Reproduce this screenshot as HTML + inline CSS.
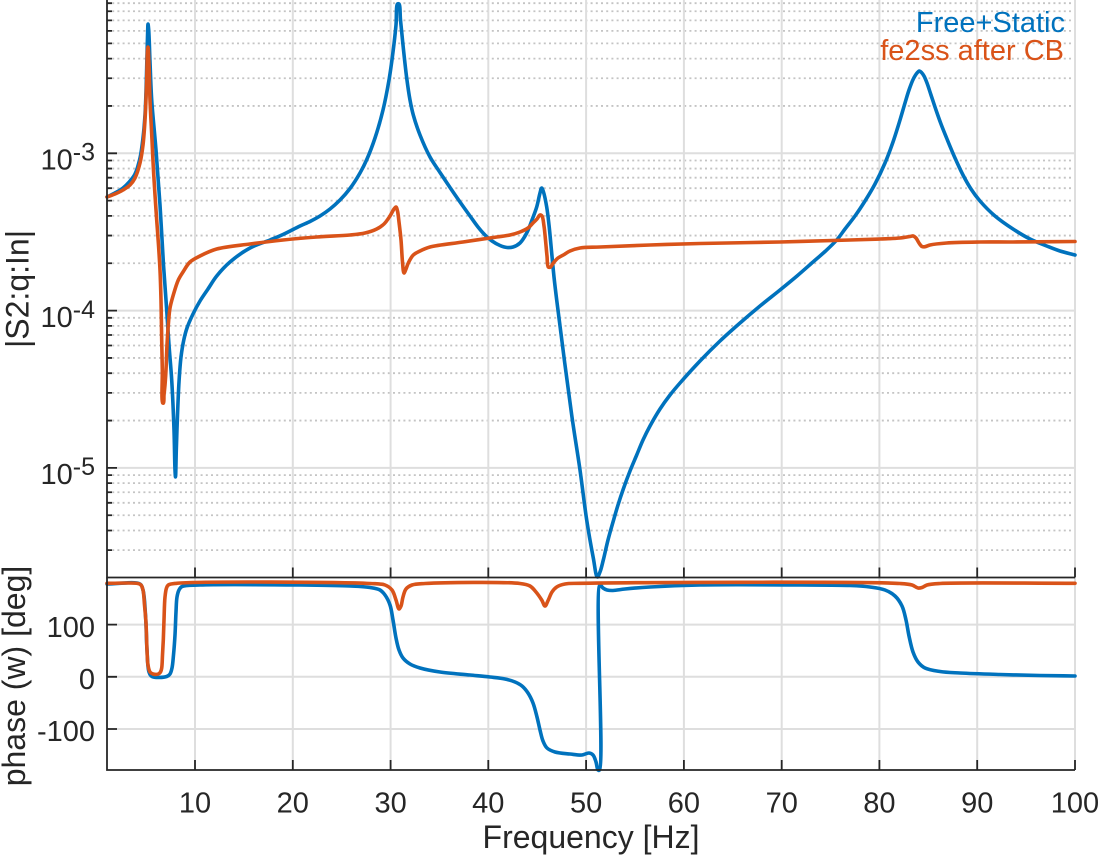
<!DOCTYPE html>
<html><head><meta charset="utf-8"><style>
html,body{margin:0;padding:0;background:#fff;}
svg{display:block;}
text{font-family:"Liberation Sans",Arial,sans-serif;fill:#262626;}
</style></head><body>
<svg id="chart" width="1098" height="860" viewBox="0 0 1098 860" xmlns="http://www.w3.org/2000/svg">
<rect width="1098" height="860" fill="#fff"/>
<!-- minor grid upper (dotted) -->
<g stroke="#c4c4c4" stroke-width="1.8" stroke-dasharray="2 3.2" fill="none">
<path d="M107 105.95H1075M107 78.25H1075M107 58.6H1075M107 43.35H1075M107 30.9H1075M107 20.37H1075M107 11.24H1075M107 3.2H1075
M107 263.25H1075M107 235.55H1075M107 215.9H1075M107 200.65H1075M107 188.2H1075M107 177.67H1075M107 168.54H1075M107 160.5H1075
M107 420.55H1075M107 392.85H1075M107 373.2H1075M107 357.95H1075M107 345.5H1075M107 334.97H1075M107 325.84H1075M107 317.8H1075
M107 550.15H1075M107 530.5H1075M107 515.25H1075M107 502.8H1075M107 492.27H1075M107 483.14H1075M107 475.1H1075"/>
</g>
<!-- major grid -->
<g stroke="#dedede" stroke-width="2" fill="none">
<path d="M107 153.3H1075M107 310.6H1075M107 467.9H1075"/>
<path d="M195 0V577M292.8 0V577M390.6 0V577M488.3 0V577M586.1 0V577M683.9 0V577M781.7 0V577M879.4 0V577M977.2 0V577M1075 0V577"/>
<path d="M107 624.6H1075M107 676.8H1075M107 729H1075"/>
<path d="M195 578V770M292.8 578V770M390.6 578V770M488.3 578V770M586.1 578V770M683.9 578V770M781.7 578V770M879.4 578V770M977.2 578V770M1075 578V770"/>
</g>

<!-- magnitude: blue -->
<polyline class="sm" fill="none" stroke="#0072BD" stroke-width="3.6" stroke-linejoin="round" stroke-linecap="round" points="
107,197 115,193 123,188 130,181 135,174 140,158 143,138 145,115 146,92 147,55 147.7,30 148,24 148.7,30 150,62 151.7,100 156,150 160,205 163.5,265 166.7,310 169,345 171.7,380 174,430 175,470 175.5,477 176.3,450 177.5,415 179,382 181,357 184,339 187,328 193,314 200,301 208,289 216.7,276 230,262 250,248 270,240 283,234.5 300,226 310,221.5 320,216 330,209 340,200 350,188.5 360,173 367,159 375,138 383,110 389,80 393,52 396,25 397.5,4 399,4 400.5,20 403,45 406.7,78 410,100 413.3,115 420,135 430,157 440,172.5 450,187.5 460,202 470,216 478,227 485,235 492,241 500,245.5 507,247.5 513,247 520,243 526.7,233 532,220 536.7,207 540,193 541.7,188 543.5,192 546.7,207 549,225 551.7,253 554,277 556.7,300 571.7,415 580,470 586.7,520 593.3,558 597.3,577 600,572 603.3,560 608,540 613.3,521 618,505 623.3,489 630,471 636.7,455 643,440 650,426 660,409 670,395 680,383 700,361 720,341 740,323 760,306 780,290 797,276 813,262 825,251.5 836.7,240 845,229 855,216 865,201 875,184 885,163 893,142 900,120 905,103 909,90 913.3,79 917,73 919.3,71 921.5,72.5 924,76 927,83 931,95 936,110 941,124 947,139 955,158 963,175 971,189 980,201 995,216 1013,229 1030,239 1046.7,246 1060,251 1075,255"/>

<!-- magnitude: orange -->
<polyline class="sm" fill="none" stroke="#D95319" stroke-width="3.6" stroke-linejoin="round" stroke-linecap="round" points="
107,197 115,194 123,190 130,185 135,178 140,163 143,145 145,120 146.7,80 147.5,50 148,47 149,65 150,100 152,140 153.3,167 155,195 156.7,220 158.5,245 160,270 161,300 161.7,340 162.3,370 162.7,403 163.5,403 164,395 165,385 166,370 167,345 168.3,325 170,308 173.3,295 178.3,280 183,272 190,262 200,256 216.7,249 250,244 283,240 316.7,237 350,235 365,233 376.7,229 384,224 390,216 394,209 396,207 397.5,211 399,222 401,240 402.5,262 404,273 406,269 408.3,263 413.3,255 420,251 430,247 463,242 496.7,237 510,235 520,232 528,228 533,223 537,219 540,215 542,216 544,226 545.5,240 547,256 548.3,267 550.5,267 553.3,263 558,258 563.3,255 570,251 580,248 600,247 650,245 700,243.5 780,242 850,240 880,239 900,238 910,236.5 913.3,236 916,238 919,243 922,246.5 925,246.7 930,245 946.7,243 980,242 1013,242 1075,241.5"/>

<!-- phase: blue -->
<polyline class="sm" fill="none" stroke="#0072BD" stroke-width="3.6" stroke-linejoin="round" stroke-linecap="round" points="
107,584 140,584 143,590 145.5,615 147,650 149,672 152,676.5 166.7,676.5 170,674 172,668 173.5,655 175,635 176,612 177,597 179,590 182,586.5 200,585 300,585 350,586 370,587.5 380,590 385,595 390,605 393,620 396,638 399,650 403,658 410,664 420,668 440,672 470,675 490,677 505,679 515,682 522,686 528,693 533,703 537,717 540,730 543,741 547,748 555,752 570,754 582,755 589,753 593,755 596,762 598,770 599.5,770 600,585 603,588 607,590 613,590.5 625,589 650,587 700,585 800,585 850,585.5 870,587 885,590 895,596 902,606 906,620 909,636 913,652 918,662 925,668 940,671.5 960,673 1000,674.5 1040,675.5 1075,676"/>

<!-- phase: orange -->
<polyline class="sm" fill="none" stroke="#D95319" stroke-width="3.6" stroke-linejoin="round" stroke-linecap="round" points="
107,583.3 138,583.5 141,585 143,590 144.5,605 146,623 147,650 148,665 150,672 153,674 158.3,674 160.5,672 161.7,668 162.5,655 163.3,640 164,620 165,597 166.5,588 168.3,585 176.7,583.3 370,583.5 385,585 392,590 396,600 399,609 401,606 403,597 406,589 412,585 425,583.5 520,583.5 530,586 536,592 541.7,600 545,606 548.3,600 552,592 556.7,587 565,584 580,583.3 900,583.5 912,585 918,588 922,587.5 927,585 940,583.5 1075,583.3"/>

<!-- axes lines -->
<g stroke="#262626" stroke-width="1.8" fill="none">
<path d="M107 0V577.5H1075"/>
<path d="M107 577.5V770H1075"/>
<path d="M107 153.3h10M107 310.6h10M107 467.9h10"/>
<path d="M107 105.95h5M107 78.25h5M107 58.6h5M107 43.35h5M107 30.9h5M107 20.37h5M107 11.24h5M107 3.2h5
M107 263.25h5M107 235.55h5M107 215.9h5M107 200.65h5M107 188.2h5M107 177.67h5M107 168.54h5M107 160.5h5
M107 420.55h5M107 392.85h5M107 373.2h5M107 357.95h5M107 345.5h5M107 334.97h5M107 325.84h5M107 317.8h5
M107 550.15h5M107 530.5h5M107 515.25h5M107 502.8h5M107 492.27h5M107 483.14h5M107 475.1h5"/>
<path d="M195 577.5v-10M292.8 577.5v-10M390.6 577.5v-10M488.3 577.5v-10M586.1 577.5v-10M683.9 577.5v-10M781.7 577.5v-10M879.4 577.5v-10M977.2 577.5v-10M1075 577.5v-10"/>
<path d="M107 624.6h10M107 676.8h10M107 729h10"/>
<path d="M195 770v-10M292.8 770v-10M390.6 770v-10M488.3 770v-10M586.1 770v-10M683.9 770v-10M781.7 770v-10M879.4 770v-10M977.2 770v-10M1075 770v-10"/>
</g>

<g font-size="29" text-anchor="end">
<text x="95" y="169.5">10<tspan dy="-9" font-size="25">-3</tspan></text>
<text x="95" y="326.8">10<tspan dy="-9" font-size="25">-4</tspan></text>
<text x="95" y="484.1">10<tspan dy="-9" font-size="25">-5</tspan></text>
</g>
<g font-size="29" text-anchor="end">
<text x="95" y="636.8">100</text>
<text x="95" y="689">0</text>
<text x="95" y="741.2">-100</text>
</g>
<g font-size="29" text-anchor="middle">
<text x="195" y="812.5">10</text>
<text x="292.8" y="812.5">20</text>
<text x="390.6" y="812.5">30</text>
<text x="488.3" y="812.5">40</text>
<text x="586.1" y="812.5">50</text>
<text x="683.9" y="812.5">60</text>
<text x="781.7" y="812.5">70</text>
<text x="879.4" y="812.5">80</text>
<text x="977.2" y="812.5">90</text>
<text x="1075" y="812.5">100</text>
</g>
<text x="591" y="848" font-size="32" text-anchor="middle">Frequency [Hz]</text>
<text transform="translate(28.5,289) rotate(-90)" font-size="32" text-anchor="middle">|S2:q:In|</text>
<text transform="translate(25,676) rotate(-90)" font-size="32" text-anchor="middle">phase (w) [deg]</text>
<text x="1065" y="32" font-size="29" text-anchor="end" style="fill:#0072BD">Free+Static</text>
<text x="1064" y="60" font-size="29" text-anchor="end" style="fill:#D95319">fe2ss after CB</text>
</svg>
<script>
(function(){
  var NS="http://www.w3.org/2000/svg";
  var pls=document.querySelectorAll("polyline.sm");
  for(var k=0;k<pls.length;k++){
    var pl=pls[k];
    var raw=pl.getAttribute("points").trim().split(/\s+/);
    var P=[];
    for(var i=0;i<raw.length;i++){var c=raw[i].split(",");if(c.length==2)P.push([+c[0],+c[1]]);}
    if(P.length<3)continue;
    var a=0.5,d="M"+P[0][0]+" "+P[0][1];
    function dist(p,q){var dx=p[0]-q[0],dy=p[1]-q[1];return Math.max(Math.sqrt(dx*dx+dy*dy),1e-4);}
    for(var i=0;i<P.length-1;i++){
      var p0=P[i>0?i-1:0],p1=P[i],p2=P[i+1],p3=P[i+2<P.length?i+2:P.length-1];
      var d1=dist(p0,p1),d2=dist(p1,p2),d3=dist(p2,p3);
      if(i==0)d1=d2; if(i+2>=P.length)d3=d2;
      var d1a=Math.pow(d1,a),d2a=Math.pow(d2,a),d3a=Math.pow(d3,a);
      var d1b=d1a*d1a,d2b=d2a*d2a,d3b=d3a*d3a;
      var b1=[],b2=[];
      for(var j=0;j<2;j++){
        var q0=(i==0)?(2*p1[j]-p2[j]):p0[j];
        var q3=(i+2>=P.length)?(2*p2[j]-p1[j]):p3[j];
        b1[j]=(d1b*p2[j]-d2b*q0+(2*d1b+3*d1a*d2a+d2b)*p1[j])/(3*d1a*(d1a+d2a));
        b2[j]=(d3b*p1[j]-d2b*q3+(2*d3b+3*d3a*d2a+d2b)*p2[j])/(3*d3a*(d3a+d2a));
      }
      d+="C"+b1[0].toFixed(2)+" "+b1[1].toFixed(2)+" "+b2[0].toFixed(2)+" "+b2[1].toFixed(2)+" "+p2[0]+" "+p2[1];
    }
    var path=document.createElementNS(NS,"path");
    path.setAttribute("d",d);
    path.setAttribute("fill","none");
    path.setAttribute("stroke",pl.getAttribute("stroke"));
    path.setAttribute("stroke-width",pl.getAttribute("stroke-width"));
    path.setAttribute("stroke-linejoin","round");
    path.setAttribute("stroke-linecap","round");
    pl.parentNode.replaceChild(path,pl);
  }
})();
</script>
</body></html>
